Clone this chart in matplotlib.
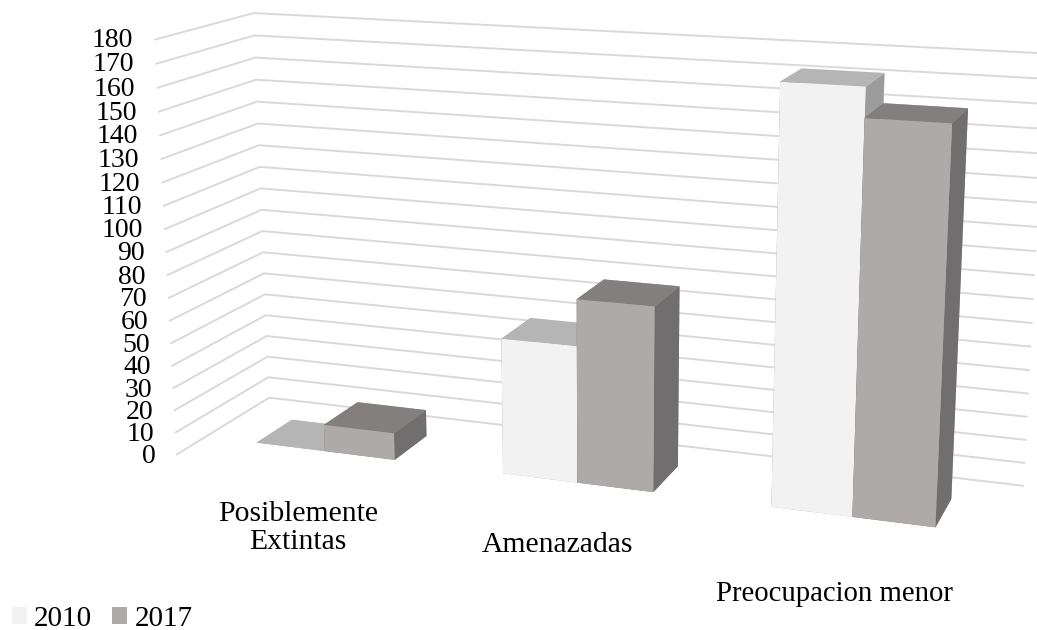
import numpy as np
import matplotlib
matplotlib.use('Agg')
import matplotlib.pyplot as plt
from matplotlib.patches import Patch

plt.rcParams['font.family'] = 'Liberation Serif'
plt.rcParams['font.size'] = 21

categories = ['Posiblemente\nExtintas', 'Amenazadas', 'Preocupacion menor']
series_names = ['2010', '2017']
values_2010 = [0, 59, 173]
values_2017 = [12, 79, 161]
ticks = list(range(0, 190, 10))

# face colours: bottom, top, front, back, left, right
faces_2010 = ['#B5B5B5', '#B5B5B5', '#F2F2F2', '#F2F2F2', '#9C9C9C', '#9C9C9C']
faces_2017 = ['#837F7E', '#837F7E', '#AEAAAA', '#AEAAAA', '#706E6E', '#706E6E']
grid_color = '#D9D9D9'

W, H = 1037, 630
half_group = 0.2854
front = 0.3015

fig = plt.figure(figsize=(W / 100, H / 100), dpi=100)
side = 947.42
ax = fig.add_axes([104.04 / W, -119.90 / H, side / W, side / H], projection='3d')
ax.computed_zorder = False
ax.set_xlim(0, 3, view_margin=0)
ax.set_ylim(0, 1, view_margin=0)
ax.set_zlim(0, 180, view_margin=0)
ax.set_box_aspect((1.9420, 0.4650, 1))
ax.set_proj_type('persp', focal_length=0.4207)
ax.view_init(14.4713, -70.1096, 0.0902)
ax.set_axis_off()

for t in ticks:
    ax.plot([0, 0, 3], [0, 1, 1], [t, t, t], color=grid_color, lw=1.4, zorder=1)
    ax.text(-0.06, -0.07, t, str(t), ha='right', va='center', fontsize=20, zorder=5)

for i in range(len(categories)):
    center = i + 0.5
    ax.bar3d(center - half_group, front, 0, half_group, 1 - 2 * front, values_2010[i],
             color=faces_2010, shade=False, zorder=2 + i * 0.1)
    ax.bar3d(center, front, 0, half_group, 1 - 2 * front, values_2017[i],
             color=faces_2017, shade=False, zorder=2.05 + i * 0.1)

fig.text(298 / W, 1 - 528 / H, categories[0], ha='center', va='center', linespacing=1.12, fontsize=21.3)
fig.text(557 / W, 1 - 545 / H, categories[1], ha='center', va='center', fontsize=21.3)
fig.text(834 / W, 1 - 594 / H, categories[2], ha='center', va='center', fontsize=20.7)

handles = [Patch(facecolor=faces_2010[2]), Patch(facecolor=faces_2017[2])]
fig.legend(handles, series_names, loc='lower left', bbox_to_anchor=(12 / W, -2 / H),
           frameon=False, ncols=2, borderpad=0, borderaxespad=0, handlelength=0.52,
           handleheight=0.52, handletextpad=0.24, columnspacing=0.68)

fig.savefig('out.png', dpi=100)
